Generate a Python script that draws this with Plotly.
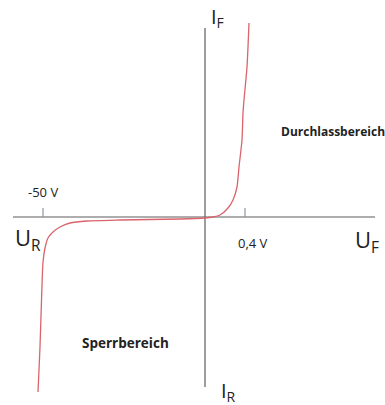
import plotly.graph_objects as go

# sketch of a diode characteristic, coordinates in sketch units (origin at the axis crossing)
curve_x = [-167, -165, -163, -162, -160, -157, -152, -145, -135, -118, -85, -25, 0, 8, 15, 23, 28, 32, 34, 37, 38, 39, 42, 44]
curve_y = [-175, -130, -68, -45, -31, -21, -15, -10, -6, -4, -3, -2, -1, 0, 2, 9, 17, 30, 50, 77, 104, 117, 150, 194]

axis_u = [-192, 170]
axis_i = [-170, 189]
tick_x = [-162, 40]
tick_labels = ["-50 V", "0,4 V"]

AXIS = "#5c5c5c"
TICK = "#8c98a8"
RED = "#d9646c"
FONT = "Open Sans"

fig = go.Figure()
fig.add_trace(go.Scatter(x=axis_u, y=[0, 0], mode="lines", line=dict(color=AXIS, width=1.2), hoverinfo="skip"))
fig.add_trace(go.Scatter(x=[0, 0], y=axis_i, mode="lines", line=dict(color=AXIS, width=1.2), hoverinfo="skip"))
for tx in tick_x:
    fig.add_trace(go.Scatter(x=[tx, tx], y=[0, 9], mode="lines", line=dict(color=TICK, width=1.2), hoverinfo="skip"))
fig.add_trace(go.Scatter(x=curve_x, y=curve_y, mode="lines", line=dict(color=RED, width=1.3, shape="spline", smoothing=0.6)))

labels = [
    (-162, 25, tick_labels[0], 13, False),
    (48, -26, tick_labels[1], 13, False),
    (-177, -22, "U<sub>R</sub>", 22, False),
    (162, -24, "U<sub>F</sub>", 22, False),
    (12, 200, "I<sub>F</sub>", 20, False),
    (23, -174, "I<sub>R</sub>", 20, False),
    (128, 86, "Durchlassbereich", 12, True),
    (-80, -126, "Sperrbereich", 13.5, True),
]
for x, y, text, size, bold in labels:
    fig.add_annotation(
        x=x, y=y, text=f"<b>{text}</b>" if bold else text, showarrow=False,
        font=dict(family=FONT, size=size, color="#222222"),
    )

fig.update_xaxes(range=[-205, 180], visible=False)
fig.update_yaxes(range=[-188, 217], visible=False)
fig.update_layout(
    width=385, height=405,
    margin=dict(l=0, r=0, t=0, b=0),
    paper_bgcolor="white", plot_bgcolor="white",
    showlegend=False,
)
fig.write_html("out.html", config={"displayModeBar": False},
               post_script="document.body.style.margin='0';")
